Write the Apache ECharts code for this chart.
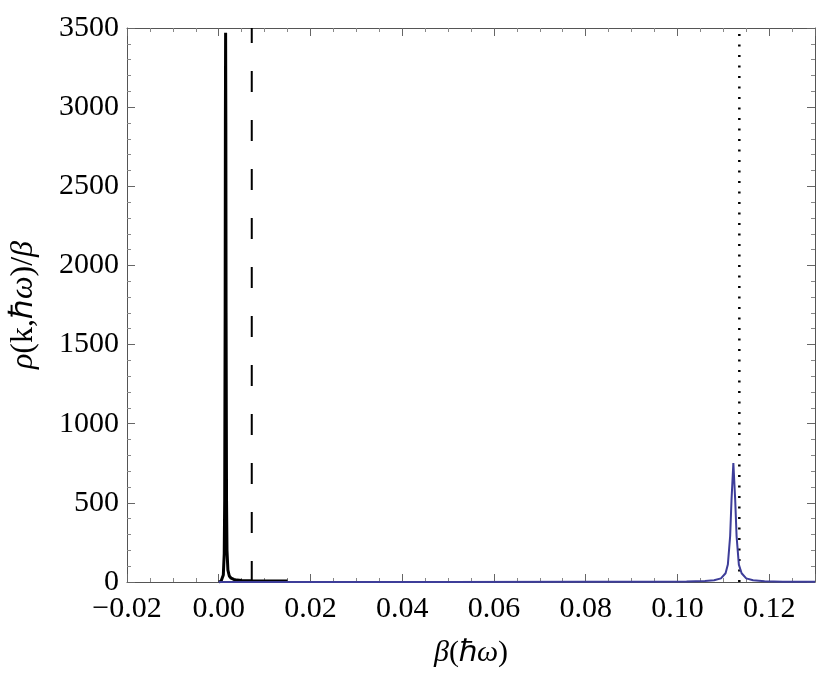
<!DOCTYPE html>
<html>
<head>
<meta charset="utf-8">
<script src="https://cdn.jsdelivr.net/npm/echarts@6/dist/echarts.min.js"></script>
<style>
  html, body { margin: 0; padding: 0; background: #fff; }
  #chart { width: 830px; height: 680px; }
</style>
</head>
<body>
<div id="chart"></div>
<script>
// black peak (narrow, near zero)
const blackX = [0.0, 0.0005, 0.0008, 0.001, 0.0012, 0.0013, 0.0014, 0.00145, 0.0015, 0.00155, 0.0016, 0.0017, 0.0018, 0.002, 0.0023, 0.0027, 0.0033, 0.004, 0.005, 0.007, 0.01, 0.015]
const blackY = [0, 4, 15, 45, 180, 520, 1700, 2900, 3470, 2900, 1700, 520, 200, 75, 38, 24, 16, 12, 10, 8, 7, 6]
// blue peak (near 0.112)
const blueX = [0.0, 0.02, 0.05, 0.08, 0.095, 0.102, 0.106, 0.108, 0.1095, 0.1105, 0.111, 0.1115, 0.1118, 0.1122, 0.1126, 0.1129, 0.1134, 0.114, 0.115, 0.1165, 0.119, 0.123, 0.13]
const blueY = [0, 0, 0, 1, 1, 3, 6, 11, 23, 55, 110, 290, 520, 752, 520, 290, 110, 55, 23, 11, 5, 2, 1]
// vertical reference lines
const dashedX = 0.0072
const dottedX = 0.1135
const yTop = 3500

const fontFamily = 'Liberation Serif'
const fs = 30

const pairs = (xs, ys) => xs.map((x, i) => [x, ys[i]])

const xFmt = v => (v < 0 ? '\u2212' : '') + Math.abs(v).toFixed(2)

const nameStyle = size => ({
  fontFamily: fontFamily,
  fontSize: size,
  color: '#000',
  rich: { i: { fontFamily: fontFamily, fontSize: size, fontStyle: 'italic', color: '#000' } }
})

const frameLine = { show: true, onZero: false, lineStyle: { color: '#555', width: 1 } }
const majorTick = { show: true, inside: true, length: 8, lineStyle: { color: '#666' } }
const minorTicks = n => ({ show: true, splitNumber: n, length: 4, lineStyle: { color: '#888' } })

const chart = echarts.init(document.getElementById('chart'))
chart.setOption({
  animation: false,
  backgroundColor: '#fff',
  grid: { left: 125, right: 15, top: 28, bottom: 98 },
  xAxis: [
    {
      type: 'value',
      min: -0.02,
      max: 0.13,
      interval: 0.02,
      name: '{i|β}(\u210F{i|ω})',
      nameLocation: 'middle',
      nameGap: 56,
      nameTextStyle: nameStyle(30),
      axisLine: frameLine,
      axisTick: majorTick,
      minorTick: minorTicks(4),
      axisLabel: {
        formatter: xFmt,
        showMaxLabel: false,
        fontFamily: fontFamily,
        fontSize: fs,
        color: '#000',
        margin: 12
      },
      splitLine: { show: false }
    },
    {
      type: 'value',
      position: 'top',
      min: -0.02,
      max: 0.13,
      interval: 0.02,
      axisLine: frameLine,
      axisTick: majorTick,
      minorTick: minorTicks(4),
      axisLabel: { show: false },
      splitLine: { show: false }
    }
  ],
  yAxis: [
    {
      type: 'value',
      min: 0,
      max: yTop,
      interval: 500,
      name: '{i|ρ}(k,\u210F{i|ω})/{i|β}',
      nameLocation: 'middle',
      nameRotate: 90,
      nameGap: 87,
      nameTextStyle: nameStyle(32),
      axisLine: frameLine,
      axisTick: majorTick,
      minorTick: minorTicks(5),
      axisLabel: {
        formatter: v => String(v),
        fontFamily: fontFamily,
        fontSize: fs,
        color: '#000',
        margin: 8
      },
      splitLine: { show: false }
    },
    {
      type: 'value',
      position: 'right',
      min: 0,
      max: yTop,
      interval: 500,
      axisLine: frameLine,
      axisTick: majorTick,
      minorTick: minorTicks(5),
      axisLabel: { show: false },
      splitLine: { show: false }
    }
  ],
  series: [
    {
      name: 'black',
      type: 'line',
      data: pairs(blackX, blackY),
      showSymbol: false,
      lineStyle: { color: '#000', width: 3 },
      z: 3
    },
    {
      name: 'blue',
      type: 'line',
      data: pairs(blueX, blueY),
      showSymbol: false,
      lineStyle: { color: '#3d3d99', width: 2 },
      z: 4
    },
    {
      name: 'dashed',
      type: 'line',
      data: [[dashedX, 0], [dashedX, yTop]],
      showSymbol: false,
      lineStyle: { color: '#000', width: 2, type: [21, 28] },
      z: 2
    },
    {
      name: 'dotted',
      type: 'line',
      data: [[dottedX, 0], [dottedX, yTop]],
      showSymbol: false,
      lineStyle: { color: '#000', width: 2.5, type: [2, 8.5] },
      z: 2
    }
  ]
})
</script>
</body>
</html>
